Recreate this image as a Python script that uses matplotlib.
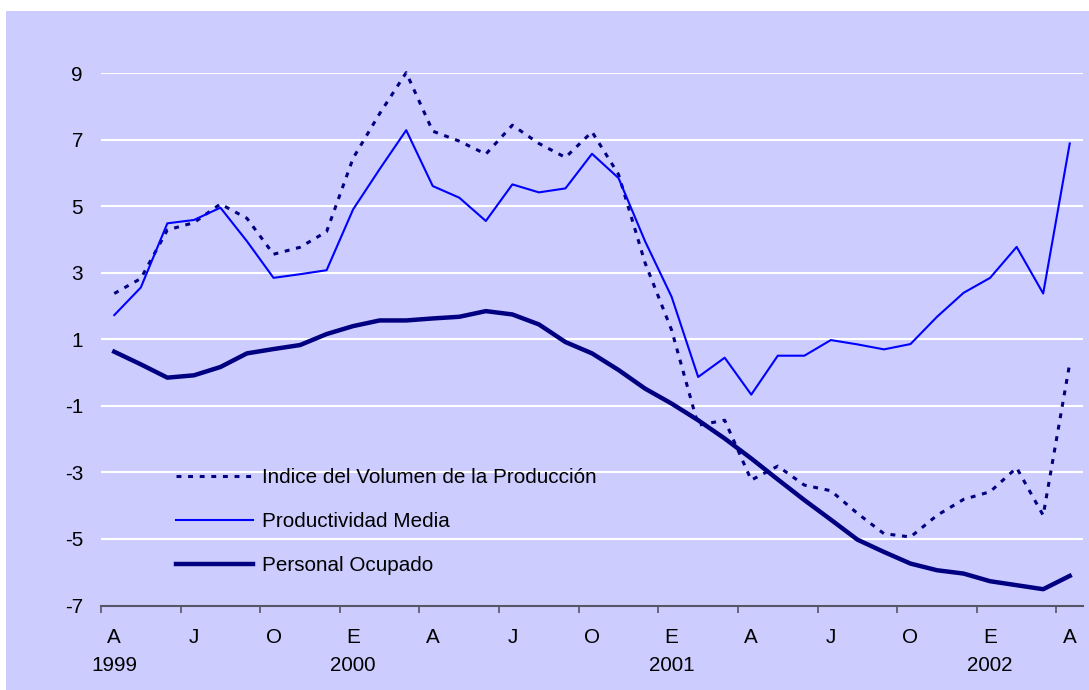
import matplotlib.pyplot as plt
import numpy as np
from matplotlib.transforms import blended_transform_factory

plt.rcParams['font.family'] = ['Liberation Sans', 'DejaVu Sans']
plt.rcParams['axes.unicode_minus'] = False

# Monthly series, April 1999 .. April 2002 (year-on-year % change)
months = ['A', 'M', 'J', 'J', 'A', 'S', 'O', 'N', 'D', 'E', 'F', 'M'] * 3 + ['A']
tick_labels = ['A', 'J', 'O', 'E']
year_labels = {0: '1999', 9: '2000', 21: '2001', 33: '2002'}

indice_volumen = [2.38, 2.83, 4.29, 4.51, 5.07, 4.64, 3.56, 3.77, 4.24, 6.45,
                  7.79, 9.02, 7.26, 6.96, 6.57, 7.44, 6.89, 6.47, 7.24, 5.96,
                  3.30, 1.28, -1.58, -1.43, -3.23, -2.81, -3.38, -3.55, -4.23,
                  -4.84, -4.94, -4.29, -3.81, -3.58, -2.86, -4.29, 0.28]
productividad = [1.73, 2.56, 4.49, 4.59, 4.96, 3.95, 2.85, 2.96, 3.08, 4.91,
                 6.12, 7.29, 5.61, 5.26, 4.56, 5.66, 5.42, 5.54, 6.58, 5.85,
                 3.95, 2.28, -0.13, 0.45, -0.66, 0.51, 0.51, 0.98, 0.85,
                 0.70, 0.86, 1.68, 2.40, 2.85, 3.78, 2.38, 6.89]
personal = [0.63, 0.25, -0.15, -0.08, 0.17, 0.58, 0.71, 0.83, 1.16, 1.40,
            1.57, 1.57, 1.63, 1.68, 1.85, 1.75, 1.45, 0.92, 0.58, 0.08,
            -0.48, -0.93, -1.43, -1.98, -2.58, -3.21, -3.83, -4.42, -5.02,
            -5.39, -5.74, -5.94, -6.04, -6.27, -6.39, -6.51, -6.11]

x = np.arange(len(months))
bg = '#CCCCFF'
fs = 14.9

fig = plt.figure(figsize=(10.89, 6.90), dpi=100)
fig.patch.set_facecolor('white')
# lavender chart area with thin white margin top/left
fig.patches.append(plt.Rectangle((6 / 1089, 0), 1, 1 - 11 / 690,
                                 transform=fig.transFigure, facecolor=bg,
                                 edgecolor='none', zorder=-10))

ax = fig.add_axes([101 / 1089, 1 - 605.5 / 690, 982 / 1089, 532.2 / 690])
ax.set_facecolor(bg)

ax.plot(x, indice_volumen, color='#000080', linewidth=2.2,
        linestyle=(0, (1.6, 2.2)), clip_on=False,
        label='Indice del Volumen de la Producción')
ax.plot(x, productividad, color='#0000FF', linewidth=1.5, clip_on=False,
        label='Productividad Media')
ax.plot(x, personal, color='#000080', linewidth=3.2, clip_on=False,
        label='Personal Ocupado')

ax.set_xlim(-0.5, 36.5)
ax.set_ylim(-7, 9)
ax.set_yticks(np.arange(-7, 10, 2))
ax.yaxis.grid(True, color='white', linewidth=1.5)
ax.set_axisbelow(True)
ax.tick_params(axis='y', length=0, pad=13, labelsize=fs)

# ticks between categories, labels on categories
ax.set_xticks(np.arange(-0.5, 37, 3))
ax.set_xticklabels([])
ax.tick_params(axis='x', which='major', length=5, width=1.2, color='#555566',
               direction='out')
ax.set_xticks(x[::3], minor=True)
ax.set_xticklabels([tick_labels[k % 4] for k in range(len(x[::3]))],
                   minor=True)
ax.tick_params(axis='x', which='minor', length=0, pad=16, labelsize=fs)

trans = blended_transform_factory(ax.transData, ax.transAxes)
for i, yr in year_labels.items():
    ax.text(i, -0.113, yr, transform=trans, ha='center', va='center',
            fontsize=fs)

for s in ['top', 'right', 'left']:
    ax.spines[s].set_visible(False)
ax.spines['bottom'].set_color('#555566')
ax.spines['bottom'].set_linewidth(1.5)

ax.legend(loc='upper left', bbox_to_anchor=(176 / 1089, 1 - 468 / 690),
          bbox_transform=fig.transFigure, frameon=False, fontsize=fs,
          handlelength=3.7, handletextpad=0.45, labelspacing=1.22,
          borderpad=0, borderaxespad=0)

fig.savefig('out.png', dpi=100, facecolor=fig.get_facecolor())
